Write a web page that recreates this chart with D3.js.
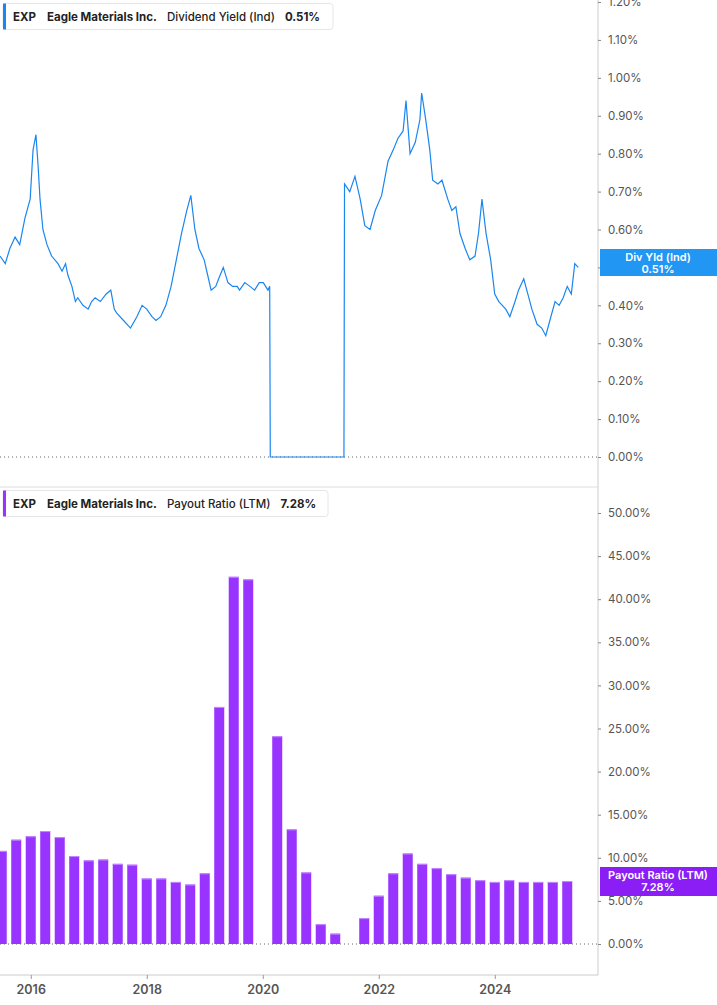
<!DOCTYPE html>
<html><head><meta charset="utf-8">
<script src="https://cdn.jsdelivr.net/npm/d3@7/dist/d3.min.js"></script>
<style>body{margin:0;background:#fff;font-family:Inter,"Open Sans",sans-serif}</style>
</head><body><svg id="c" width="717" height="1005"></svg>
<script>
// Dividend yield (%) by decimal year
const yieldDates = [2015.47,2015.56,2015.64,2015.73,2015.81,2015.9,2015.99,2016.04,2016.09,2016.13,2016.16,2016.21,2016.28,2016.36,2016.47,2016.54,2016.6,2016.64,2016.71,2016.77,2016.81,2016.9,2016.99,2017.05,2017.11,2017.2,2017.3,2017.38,2017.44,2017.48,2017.6,2017.72,2017.83,2017.92,2018.0,2018.09,2018.16,2018.24,2018.33,2018.42,2018.51,2018.6,2018.69,2018.76,2018.83,2018.9,2018.99,2019.05,2019.11,2019.19,2019.24,2019.32,2019.4,2019.48,2019.56,2019.6,2019.69,2019.78,2019.86,2019.94,2020.01,2020.09,2020.12,2020.13,2021.4,2021.41,2021.5,2021.59,2021.68,2021.76,2021.85,2021.94,2022.05,2022.16,2022.25,2022.33,2022.42,2022.47,2022.54,2022.63,2022.71,2022.74,2022.81,2022.88,2022.93,2023.02,2023.09,2023.19,2023.26,2023.33,2023.4,2023.49,2023.57,2023.66,2023.72,2023.78,2023.85,2023.93,2024.0,2024.07,2024.19,2024.26,2024.35,2024.41,2024.5,2024.57,2024.64,2024.73,2024.81,2024.88,2024.95,2025.04,2025.11,2025.18,2025.25,2025.32,2025.38,2025.44];
const yieldValues = [0.53,0.51,0.55,0.58,0.56,0.63,0.68,0.81,0.85,0.76,0.68,0.60,0.56,0.53,0.51,0.49,0.51,0.48,0.45,0.41,0.42,0.40,0.39,0.41,0.42,0.41,0.43,0.44,0.39,0.38,0.36,0.34,0.37,0.40,0.39,0.37,0.36,0.37,0.40,0.45,0.52,0.59,0.65,0.69,0.60,0.55,0.52,0.48,0.44,0.45,0.47,0.50,0.46,0.45,0.45,0.44,0.46,0.45,0.44,0.46,0.46,0.44,0.45,0.00,0.00,0.72,0.70,0.74,0.68,0.61,0.60,0.65,0.69,0.78,0.81,0.84,0.86,0.94,0.80,0.83,0.89,0.96,0.89,0.81,0.73,0.72,0.73,0.68,0.65,0.66,0.59,0.55,0.52,0.53,0.59,0.68,0.59,0.52,0.43,0.41,0.39,0.37,0.41,0.44,0.47,0.43,0.39,0.35,0.34,0.32,0.36,0.41,0.40,0.42,0.45,0.43,0.51,0.50];
// Payout ratio (%) by quarter (null = no bar)
const payoutDates = [2015.5,2015.75,2016.0,2016.25,2016.5,2016.75,2017.0,2017.25,2017.5,2017.75,2018.0,2018.25,2018.5,2018.75,2019.0,2019.25,2019.5,2019.75,2020.0,2020.25,2020.5,2020.75,2021.0,2021.25,2021.5,2021.75,2022.0,2022.25,2022.5,2022.75,2023.0,2023.25,2023.5,2023.75,2024.0,2024.25,2024.5,2024.75,2025.0,2025.25];
const payoutValues = [10.8,12.1,12.5,13.1,12.4,10.2,9.7,9.8,9.3,9.2,7.6,7.6,7.2,6.9,8.2,27.5,42.6,42.3,null,24.1,13.3,8.3,2.3,1.2,null,3.0,5.6,8.2,10.5,9.3,8.8,8.1,7.7,7.4,7.2,7.4,7.2,7.2,7.2,7.3];
const yieldTicks = [0,0.1,0.2,0.3,0.4,0.5,0.6,0.7,0.8,0.9,1.0,1.1,1.2];
const payoutTicks = [0,5,10,15,20,25,30,35,40,45,50];
const yearTicks = [2016,2018,2020,2022,2024];

const svg = d3.select("#c");
const AX = 598;
const x = d3.scaleLinear().domain([2015.47, 2015.47 + AX/58]).range([0, AX]);
const y1 = d3.scaleLinear().domain([0, 1.2]).range([457, 2]);
const y2 = d3.scaleLinear().domain([0, 50]).range([944, 513]);

svg.append("line").attr("x1",AX).attr("x2",AX).attr("y1",0).attr("y2",975).attr("stroke","#ccc");
svg.append("line").attr("x1",0).attr("x2",AX).attr("y1",487).attr("y2",487).attr("stroke","#ddd");
svg.append("line").attr("x1",0).attr("x2",AX).attr("y1",975).attr("y2",975).attr("stroke","#ccc");

function rightAxis(scale, ticks, fmt){
  const g = svg.append("g").attr("transform",`translate(${AX},0)`)
    .call(d3.axisRight(scale).tickValues(ticks).tickFormat(fmt).tickSize(3).tickPadding(7));
  g.select(".domain").remove();
  g.selectAll("line").attr("stroke","#888");
  g.selectAll("text").attr("fill","#555").attr("font-size",11.5).attr("font-family","Inter,sans-serif");
}
rightAxis(y1, yieldTicks, d=>d.toFixed(2)+"%");
rightAxis(y2, payoutTicks, d=>d.toFixed(2)+"%");

[y1(0), y2(0)].forEach(yy=>svg.append("line").attr("x1",0).attr("x2",AX).attr("y1",yy).attr("y2",yy)
  .attr("stroke","#666").attr("stroke-dasharray","1,3"));

const xg = svg.append("g").attr("transform","translate(0,975)")
  .call(d3.axisBottom(x).tickValues(yearTicks).tickFormat(d3.format("d")).tickSize(4).tickPadding(6));
xg.select(".domain").remove();
xg.selectAll("line").attr("stroke","#999");
xg.selectAll("text").attr("fill","#555").attr("font-size",12.5).attr("font-weight",600).attr("font-family","Inter,sans-serif");

const bw = 10;
const bars = payoutDates.map((d,i)=>({d,v:payoutValues[i]})).filter(b=>b.v!=null);
svg.append("g").selectAll("rect").data(bars).join("rect")
  .attr("x",b=>x(b.d)-bw/2).attr("width",bw)
  .attr("y",b=>y2(b.v)).attr("height",b=>y2(0)-y2(b.v))
  .attr("fill","#9933ff");
svg.append("g").selectAll("line").data(bars).join("line")
  .attr("x1",b=>x(b.d)-bw/2).attr("x2",b=>x(b.d)+bw/2)
  .attr("y1",b=>y2(b.v)+0.5).attr("y2",b=>y2(b.v)+0.5).attr("stroke","#c58cff");

const pts = yieldDates.map((d,i)=>[d,yieldValues[i]]);
svg.append("path").datum(pts)
  .attr("d", d3.line().x(p=>x(p[0])).y(p=>y1(p[1])))
  .attr("fill","none").attr("stroke","#1a86f0").attr("stroke-width",1.2);

function legend(yTop, w, color, label, val){
  const g = svg.append("g").attr("transform",`translate(0,${yTop})`);
  g.append("rect").attr("x",3).attr("y",0.5).attr("width",w).attr("height",26).attr("rx",3)
    .attr("fill","#fff").attr("stroke","#e6e6e6");
  g.append("rect").attr("x",3).attr("y",0.5).attr("width",3).attr("height",26).attr("fill",color);
  const t = g.append("text").attr("y",18).attr("font-size",11.5).attr("fill","#222").attr("font-family","Inter,sans-serif");
  t.append("tspan").attr("x",13).attr("font-weight",700).text("EXP");
  t.append("tspan").attr("x",47).attr("font-weight",700).text("Eagle Materials Inc.");
  t.append("tspan").attr("x",167).attr("font-weight",500).text(label);
  t.append("tspan").attr("dx",10).attr("font-weight",700).text(val);
}
legend(3, 330, "#1a86f0", "Dividend Yield (Ind)", "0.51%");
legend(490, 325, "#9933ff", "Payout Ratio (LTM)", "7.28%");

function badge(yTop, h, color, l1, l2){
  svg.append("rect").attr("x",600).attr("y",yTop).attr("width",117).attr("height",h).attr("fill",color);
  svg.append("text").attr("x",658).attr("y",yTop+12).attr("text-anchor","middle").attr("fill","#fff")
    .attr("font-size",11).attr("font-weight",600).attr("font-family","Inter,sans-serif").text(l1);
  svg.append("text").attr("x",658).attr("y",yTop+24).attr("text-anchor","middle").attr("fill","#fff")
    .attr("font-size",11).attr("font-weight",600).attr("font-family","Inter,sans-serif").text(l2);
}
badge(249, 27, "#2196f3", "Div Yld (Ind)", "0.51%");
badge(867, 29, "#8a1ef5", "Payout Ratio (LTM)", "7.28%");
</script></body></html>
